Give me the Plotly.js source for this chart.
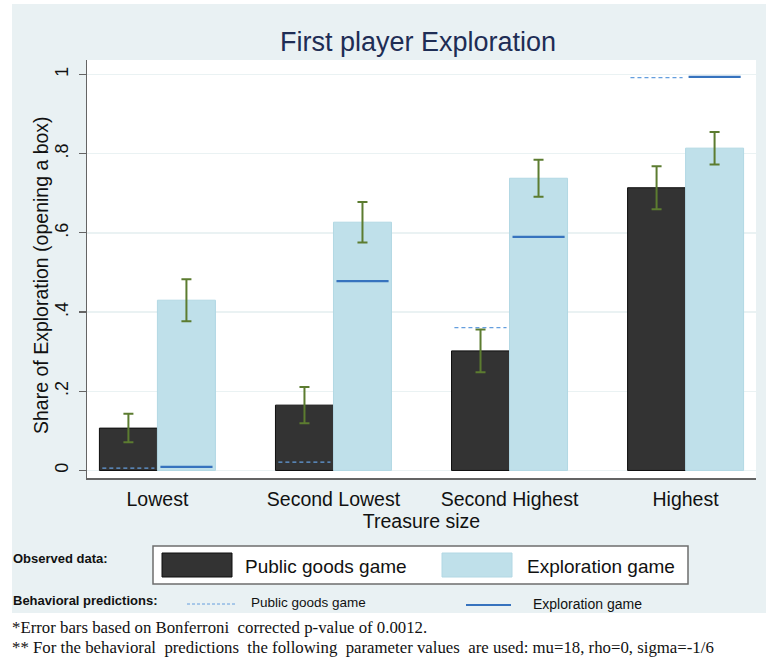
<!DOCTYPE html>
<html>
<head>
<meta charset="utf-8">
<script src="https://cdn.plot.ly/plotly-3.0.1.min.js"></script>
<style>html,body{margin:0;padding:0;background:#fff;}#chart{width:766px;height:662px;}</style>
</head>
<body>
<div id="chart"></div>
<script>
// ---- data ----
const categories = ["Lowest", "Second Lowest", "Second Highest", "Highest"];
const publicGoods = [0.107, 0.165, 0.302, 0.714];
const publicGoodsErr = [0.036, 0.046, 0.054, 0.054];
const exploration = [0.430, 0.627, 0.738, 0.814];
const explorationErr = [0.053, 0.051, 0.047, 0.041];
const predPublicGoods = [0.006, 0.021, 0.361, 0.992];
const predExploration = [0.009, 0.478, 0.590, 0.994];
const yTickVals = [0, 0.2, 0.4, 0.6, 0.8, 1];
const yTickText = ["0", ".2", ".4", ".6", ".8", "1"];

// ---- layout helpers ----
const L = 87, R = 10, T = 60, B = 184, W = 766, H = 662;
const PW = W - L - R, PH = H - T - B;
const px = v => (v - L) / PW;
const py = v => (H - B - v) / PH;

const NARROW = "Liberation Sans Narrow, Arial Narrow, Liberation Sans, Arial, sans-serif";
const SANS = "Liberation Sans, Arial, sans-serif";
const SERIF = "Liberation Serif, Times New Roman, serif";

const xIdx = categories.map((_, i) => i);
const half = 0.165;     // half of one bar width in category units
const segHalf = 0.148;  // half length of prediction segments

function segments(vals, offset) {
  const xs = [], ys = [];
  vals.forEach((v, i) => {
    xs.push(i + offset - segHalf, i + offset + segHalf, null);
    ys.push(v, v, null);
  });
  return {xs, ys};
}
const segPG = segments(predPublicGoods, -half);
const segEX = segments(predExploration, half);

const errColor = "rgb(92,124,48)";
const dashBlue = "rgb(100,158,222)";
const solidBlue = "rgb(55,115,190)";

const traces = [
  {
    type: "bar", name: "Public goods game", x: xIdx, y: publicGoods,
    marker: {color: "rgb(51,51,51)", line: {color: "rgb(15,15,15)", width: 1}},
    error_y: {type: "data", array: publicGoodsErr, visible: true, color: errColor, thickness: 2, width: 5},
    hoverinfo: "y"
  },
  {
    type: "bar", name: "Exploration game", x: xIdx, y: exploration,
    marker: {color: "rgb(191,224,234)", line: {color: "rgb(178,216,228)", width: 1}},
    error_y: {type: "data", array: explorationErr, visible: true, color: errColor, thickness: 2, width: 5},
    hoverinfo: "y"
  },
  {
    type: "scatter", mode: "lines", name: "Prediction: Public goods game",
    x: segPG.xs, y: segPG.ys, connectgaps: false,
    line: {color: dashBlue, width: 1.3, dash: "4px,3px"}, hoverinfo: "skip"
  },
  {
    type: "scatter", mode: "lines", name: "Prediction: Exploration game",
    x: segEX.xs, y: segEX.ys, connectgaps: false,
    line: {color: solidBlue, width: 2.2}, hoverinfo: "skip"
  }
];

const shapes = [
  {type: "rect", xref: "paper", yref: "paper", x0: px(12), x1: px(766), y0: py(613), y1: py(4),
   fillcolor: "rgb(233,241,243)", line: {width: 0}, layer: "below"},
  {type: "rect", xref: "paper", yref: "paper", x0: 0, x1: 1, y0: 0, y1: 1,
   fillcolor: "#ffffff", line: {width: 0}, layer: "below"},
  {type: "rect", xref: "paper", yref: "paper", x0: px(153), x1: px(688), y0: py(584), y1: py(546),
   fillcolor: "#ffffff", line: {color: "rgb(110,110,110)", width: 1.5}},
  {type: "rect", xref: "paper", yref: "paper", x0: px(162), x1: px(232), y0: py(577), y1: py(553),
   fillcolor: "rgb(51,51,51)", line: {color: "rgb(15,15,15)", width: 1}},
  {type: "rect", xref: "paper", yref: "paper", x0: px(442), x1: px(512), y0: py(577), y1: py(553),
   fillcolor: "rgb(191,224,234)", line: {color: "rgb(178,216,228)", width: 1}},
  {type: "line", xref: "paper", yref: "paper", x0: px(187), x1: px(235), y0: py(604), y1: py(604),
   line: {color: dashBlue, width: 1, dash: "3px,2px"}},
  {type: "line", xref: "paper", yref: "paper", x0: px(466), x1: px(511), y0: py(605), y1: py(605),
   line: {color: solidBlue, width: 2.2}}
];

function ann(text, x, y, size, family) {
  return {xref: "paper", yref: "paper", x: px(x), y: py(y), xanchor: "left", yanchor: "middle",
    showarrow: false, text: text, font: {size: size, family: family, color: "#111"}};
}

const annotations = [
  // y-axis title (placed as rotated annotation)
  {xref: "paper", yref: "paper", x: px(41), y: py(275), xanchor: "center", yanchor: "middle",
   textangle: -90, showarrow: false, text: "Share of Exploration (opening a box)",
   font: {size: 19.5, family: SANS, color: "#111"}},
  ann("<b>Observed data:</b>", 11, 558, 13, SANS),
  ann("Public goods game", 243, 566, 19, NARROW),
  ann("Exploration game", 525, 566, 19, NARROW),
  ann("<b>Behavioral predictions:</b>", 11, 600, 13, SANS),
  ann("Public goods game", 249, 602, 13.5, NARROW),
  ann("Exploration game", 531, 604, 14, NARROW),
  ann("*Error bars based on Bonferroni&nbsp; corrected p-value of 0.0012.", 10, 627, 16.8, SERIF),
  ann("** For the behavioral&nbsp; predictions&nbsp; the following&nbsp; parameter values&nbsp; are used: mu=18, rho=0, sigma=-1/6", 10, 647, 16.8, SERIF)
];

const layout = {
  width: W, height: H,
  margin: {l: L, r: R, t: T, b: B, pad: 0},
  paper_bgcolor: "#ffffff",
  plot_bgcolor: "rgba(0,0,0,0)",
  showlegend: false,
  barmode: "group", bargap: 0.341, bargroupgap: 0,
  title: {text: "First player Exploration", x: px(418), xanchor: "center", xref: "paper",
          y: 1 - 42 / H, yref: "container", yanchor: "middle",
          font: {size: 27, family: NARROW, color: "rgb(30,45,85)"}},
  xaxis: {
    range: [-0.40, 3.40], tickvals: xIdx, ticktext: categories,
    showgrid: false, zeroline: false, showline: true, linecolor: "rgb(100,100,100)", linewidth: 1.5,
    ticks: "", ticklabelstandoff: 3, tickfont: {size: 19.5, family: NARROW, color: "#111"},
    title: {text: "Treasure size", font: {size: 19.5, family: NARROW, color: "#111"}, standoff: 2}
  },
  yaxis: {
    range: [-0.019, 1.0366], tickvals: yTickVals, ticktext: yTickText, tickangle: -90,
    showgrid: true, gridcolor: "rgb(234,242,243)", gridwidth: 1.3, zeroline: false,
    showline: true, linecolor: "rgb(100,100,100)", linewidth: 1.5,
    ticks: "outside", ticklen: 7, tickcolor: "rgb(100,100,100)", tickwidth: 1.2,
    ticklabelstandoff: 3,
    tickfont: {size: 18, family: SANS, color: "#111"}
  },
  shapes: shapes,
  annotations: annotations
};

Plotly.newPlot("chart", traces, layout, {displayModeBar: false, staticPlot: true});
</script>
</body>
</html>
